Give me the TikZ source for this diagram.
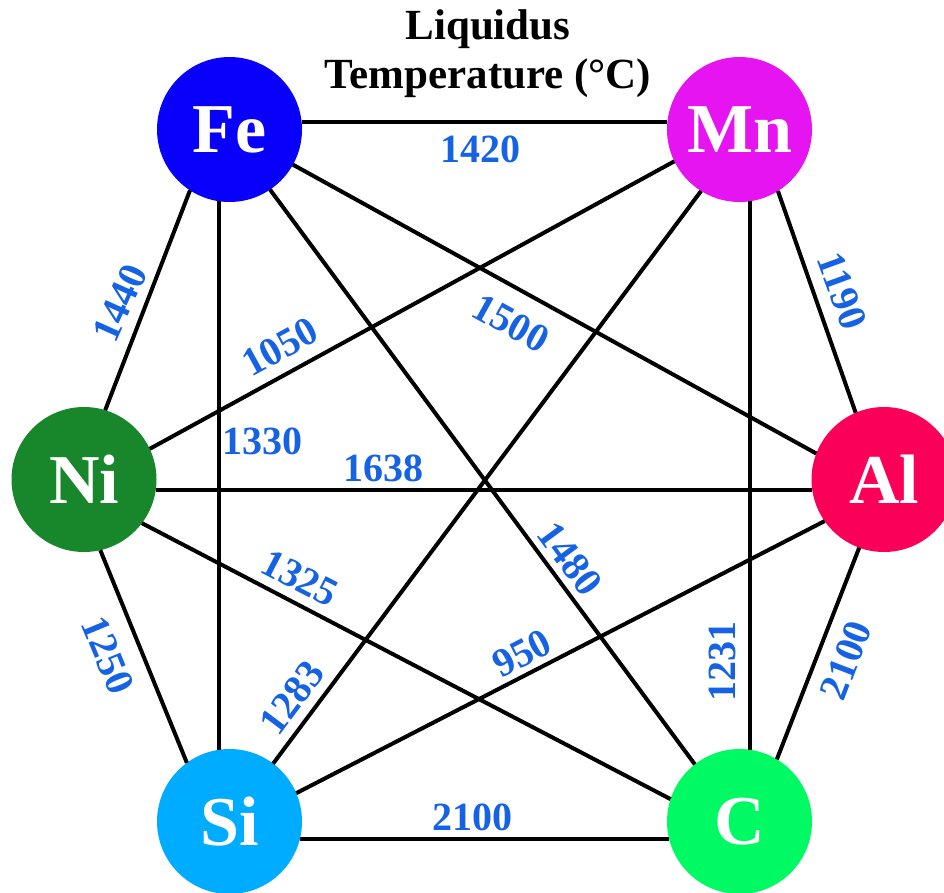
\documentclass[tikz,border=0pt]{standalone}
\usepackage{fontspec}
\setmainfont{Liberation Serif}
\usepackage{tikz}

\definecolor{feblue}{RGB}{8,0,250}
\definecolor{mnpink}{RGB}{230,20,240}
\definecolor{nigreen}{RGB}{24,134,42}
\definecolor{alred}{RGB}{250,0,88}
\definecolor{siblue}{RGB}{0,172,255}
\definecolor{cgreen}{RGB}{0,250,100}
\definecolor{numblue}{RGB}{22,98,228}

\begin{document}
\begin{tikzpicture}[x=1pt,y=-1pt,
  elem/.style={circle,minimum size=145pt,inner sep=0pt,outer sep=0pt,text=white,
    font=\fontsize{70}{70}\selectfont\bfseries},
  bond/.style={line width=4pt},
  temp/.style={text=numblue,inner sep=0pt,font=\fontsize{40}{40}\selectfont\bfseries},
  ttl/.style={inner sep=0pt,font=\fontsize{43}{49}\selectfont\bfseries}]
  \useasboundingbox (0,0) rectangle (944,892);

  % title
  \node[ttl,anchor=base] (ttl1) at (488,39) {Liquidus};
  \node[ttl,anchor=base] (ttl2) at (488,88) {Temperature (°C)};

  % elements
  \node[elem,fill=feblue] (Fe) at (229.5,129.5) {Fe};
  \node[elem,fill=mnpink] (Mn) at (739.5,129.5) {Mn};
  \node[elem,fill=nigreen] (Ni) at (84,479.5) {Ni};
  \node[elem,fill=alred] (Al) at (884,479.5) {Al};
  \node[elem,fill=siblue] (Si) at (229.5,821.5) {Si};
  \node[elem,fill=cgreen] (C) at (739.5,821.5) {C};

  % bonds
  \draw[bond] (Fe.6) -- (Mn.174);
  \draw[bond] (Ni.352) -- (Al.188);
  \draw[bond] (Si.346) -- (C.194);
  \draw[bond] (Fe.262) -- (Si.98);
  \draw[bond] (Mn.278) -- (C.82);
  \draw[bond] (Fe.237) -- (Ni.73);
  \draw[bond] (Mn.302) -- (Al.113);
  \draw[bond] (Ni.283) -- (Si.126);
  \draw[bond] (Al.250) -- (C.59);
  \draw[bond] (Fe.331) -- (Al.159);
  \draw[bond] (Mn.206) -- (Ni.25);
  \draw[bond] (Fe.304) -- (C.128);
  \draw[bond] (Mn.238) -- (Si.53);
  \draw[bond] (Ni.323) -- (C.162);
  \draw[bond] (Si.23) -- (Al.215);

  % temperatures
  \node[temp] (tFeMn) at (480,149) {1420};
  \node[temp,rotate=66] (tFeNi) at (120,303) {1440};
  \node[temp,rotate=-70] (tMnAl) at (842,291) {1190};
  \node[temp,rotate=28.7] (tMnNi) at (280,347) {1050};
  \node[temp,rotate=-29] (tFeAl) at (511,323) {1500};
  \node[temp] (tFeSi) at (262,441) {1330};
  \node[temp] (tNiAl) at (383,468) {1638};
  \node[temp,rotate=-53.6] (tFeC) at (570,559) {1480};
  \node[temp,rotate=-27.5] (tNiC) at (300,578) {1325};
  \node[temp,rotate=-67.5] (tNiSi) at (108,655) {1250};
  \node[temp,rotate=27.3] (tSiAl) at (522,653) {950};
  \node[temp,rotate=53.3] (tMnSi) at (292,698) {1283};
  \node[temp,rotate=90] (tMnC) at (722,661) {1231};
  \node[temp,rotate=69] (tAlC) at (846,660) {2100};
  \node[temp] (tSiC) at (472,817) {2100};
\end{tikzpicture}
\end{document}
